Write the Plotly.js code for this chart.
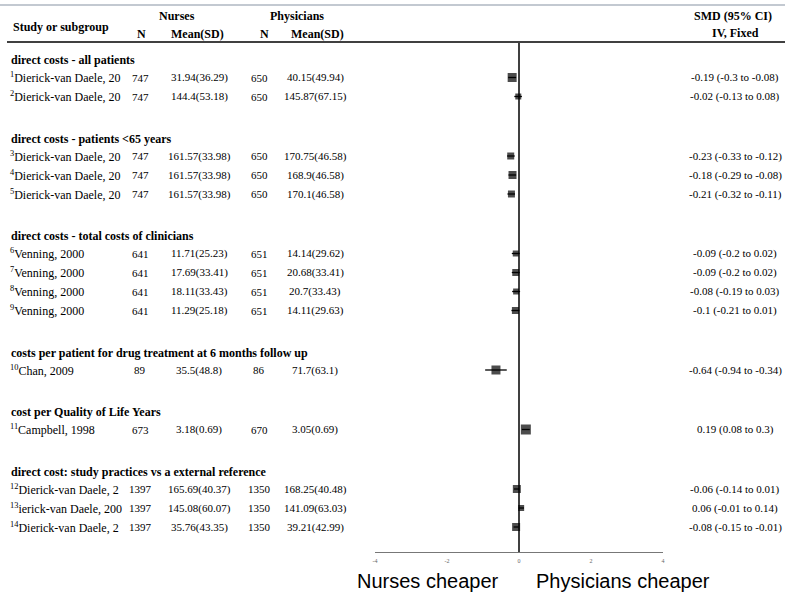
<!DOCTYPE html>
<html>
<head>
<meta charset="utf-8">
<script src="https://cdn.plot.ly/plotly-3.0.1.min.js"></script>
<style>html,body{margin:0;padding:0;background:#fff;}#chart{width:785px;height:593px;}</style>
</head>
<body>
<div id="chart"></div>
<script>
// ---------------- DATA ----------------
const groups = [
  "direct costs - all patients",
  "direct costs - patients <65 years",
  "direct costs - total costs of clinicians",
  "costs per patient for drug treatment at 6 months follow up",
  "cost per Quality of Life Years",
  "direct cost: study practices vs a external reference"
];
const groupOf = [0,0,1,1,1,2,2,2,2,3,4,5,5,5];
const studies = [
  "Dierick-van Daele, 20","Dierick-van Daele, 20","Dierick-van Daele, 20","Dierick-van Daele, 20","Dierick-van Daele, 20",
  "Venning, 2000","Venning, 2000","Venning, 2000","Venning, 2000",
  "Chan, 2009","Campbell, 1998",
  "Dierick-van Daele, 2","ierick-van Daele, 200","Dierick-van Daele, 2"
];
const nurseN    = [747,747,747,747,747,641,641,641,641,89,673,1397,1397,1397];
const nurseMean = [31.94,144.4,161.57,161.57,161.57,11.71,17.69,18.11,11.29,35.5,3.18,165.69,145.08,35.76];
const nurseSD   = [36.29,53.18,33.98,33.98,33.98,25.23,33.41,33.43,25.18,48.8,0.69,40.37,60.07,43.35];
const physN     = [650,650,650,650,650,651,651,651,651,86,670,1350,1350,1350];
const physMean  = [40.15,145.87,170.75,168.9,170.1,14.14,20.68,20.7,14.11,71.7,3.05,168.25,141.09,39.21];
const physSD    = [49.94,67.15,46.58,46.58,46.58,29.62,33.41,33.43,29.63,63.1,0.69,40.48,63.03,42.99];
const smd       = [-0.19,-0.02,-0.23,-0.18,-0.21,-0.09,-0.09,-0.08,-0.1,-0.64,0.19,-0.06,0.06,-0.08];
const ciLow     = [-0.3,-0.13,-0.33,-0.29,-0.32,-0.2,-0.2,-0.19,-0.21,-0.94,0.08,-0.14,-0.01,-0.15];
const ciHigh    = [-0.08,0.08,-0.12,-0.08,-0.11,0.02,0.02,0.03,0.01,-0.34,0.3,0.01,0.14,-0.01];
const xTicks    = [-4,-2,0,2,4];

// ---------------- STYLE / LAYOUT ----------------
const W = 785, H = 593;
const markerSize = [9,6,7,8,7,6,7,6,7,9,10,8,6,8];
const AXIS_Y = 552;
const FIRST_HEADER_Y = 60, HEADER_TO_ROW = 17.5, ROW_STEP = 19, GROUP_GAP = 42;

// compute row pixel positions from the group structure
const headerY = [], rowY = [];
let cur = FIRST_HEADER_Y, lastGroup = -1;
groupOf.forEach((g, i) => {
  if (g !== lastGroup) {
    if (lastGroup !== -1) cur += GROUP_GAP;
    headerY[g] = cur;
    cur += HEADER_TO_ROW;
    lastGroup = g;
  } else {
    cur += ROW_STEP;
  }
  rowY[i] = cur;
});

const px = v => v / W;
const serif = "Liberation Serif, Times New Roman, serif";
const ann = [];
function T(text, x, y, anchor, size, extra) {
  ann.push(Object.assign({
    text: text, xref: 'paper', yref: 'y', x: px(x), y: y,
    xanchor: anchor || 'center', yanchor: 'middle', showarrow: false,
    font: {family: serif, size: size || 12, color: '#000'}
  }, extra || {}));
}

// column headers
T("<b>Study or subgroup</b>", 11, 27, 'left');
T("<b>Nurses</b>", 177, 16);
T("<b>Physicians</b>", 297, 16);
T("<b>N</b>", 141, 34);
T("<b>Mean(SD)</b>", 197, 34);
T("<b>N</b>", 264, 34);
T("<b>Mean(SD)</b>", 317, 34);
T("<b>SMD (95% CI)</b>", 733, 16);
T("<b>IV, Fixed</b>", 735, 33);

// group headers
groups.forEach((g, k) => T("<b>" + g + "</b>", 9, headerY[k], 'left'));

// rows
studies.forEach((s, i) => {
  const y = rowY[i];
  T("<sup>" + (i + 1) + "</sup>" + s, 8, y, 'left');
  T(String(nurseN[i]), 140, y, 'center', 11);
  T(nurseMean[i] + "(" + nurseSD[i] + ")", 199, y, 'center', 11);
  T(String(physN[i]), 259, y, 'center', 11);
  T(physMean[i] + "(" + physSD[i] + ")", 315, y, 'center', 11);
  T(smd[i] + " (" + ciLow[i] + " to " + ciHigh[i] + ")", 735, y, 'center', 11);
});

// bottom direction labels
const sans = "Liberation Sans, Arial, sans-serif";
ann.push({text: "Nurses cheaper", xref: 'paper', yref: 'paper', x: px(428), y: (H - 581) / H,
  xanchor: 'center', yanchor: 'middle', showarrow: false, font: {family: sans, size: 20, color: '#000'}});
ann.push({text: "Physicians cheaper", xref: 'paper', yref: 'paper', x: px(623), y: (H - 581) / H,
  xanchor: 'center', yanchor: 'middle', showarrow: false, font: {family: sans, size: 20, color: '#000'}});

const shapes = [
  {type: 'line', xref: 'paper', yref: 'paper', x0: 0, x1: 1, y0: (H - 5) / H, y1: (H - 5) / H,
   line: {color: '#c3c9d1', width: 2}},
  {type: 'line', xref: 'paper', yref: 'y', x0: px(7), x1: 1, y0: 42, y1: 42,
   line: {color: '#000', width: 1.5}},
  {type: 'line', xref: 'x', yref: 'y', x0: 0, x1: 0, y0: 43, y1: AXIS_Y,
   line: {color: '#000', width: 1.5}}
];

const trace = {
  type: 'scatter', mode: 'markers',
  x: smd, y: rowY,
  marker: {symbol: 'square', size: markerSize, color: '#000', line: {width: 0}},
  error_x: {type: 'data', symmetric: false,
    array: smd.map((v, i) => ciHigh[i] - v),
    arrayminus: smd.map((v, i) => v - ciLow[i]),
    color: '#000', thickness: 1.3, width: 0},
  hoverinfo: 'skip', cliponaxis: false
};

const layout = {
  width: W, height: H,
  margin: {l: 0, r: 0, t: 0, b: 0},
  paper_bgcolor: '#fff', plot_bgcolor: 'rgba(0,0,0,0)',
  showlegend: false,
  xaxis: {domain: [px(375), px(663)], range: [-4, 4], tickvals: xTicks,
    ticktext: xTicks.map(String), showgrid: false, zeroline: false,
    showline: true, linecolor: '#777', linewidth: 1, ticks: '',
    tickfont: {family: serif, size: 6, color: '#666'}, ticklabelstandoff: 3, fixedrange: true},
  yaxis: {domain: [(H - AXIS_Y) / H, 1], range: [AXIS_Y, 0], autorange: false,
    visible: false, showgrid: false, zeroline: false, fixedrange: true},
  annotations: ann,
  shapes: shapes
};

Plotly.newPlot('chart', [trace], layout, {staticPlot: true, displayModeBar: false});
</script>
</body>
</html>
